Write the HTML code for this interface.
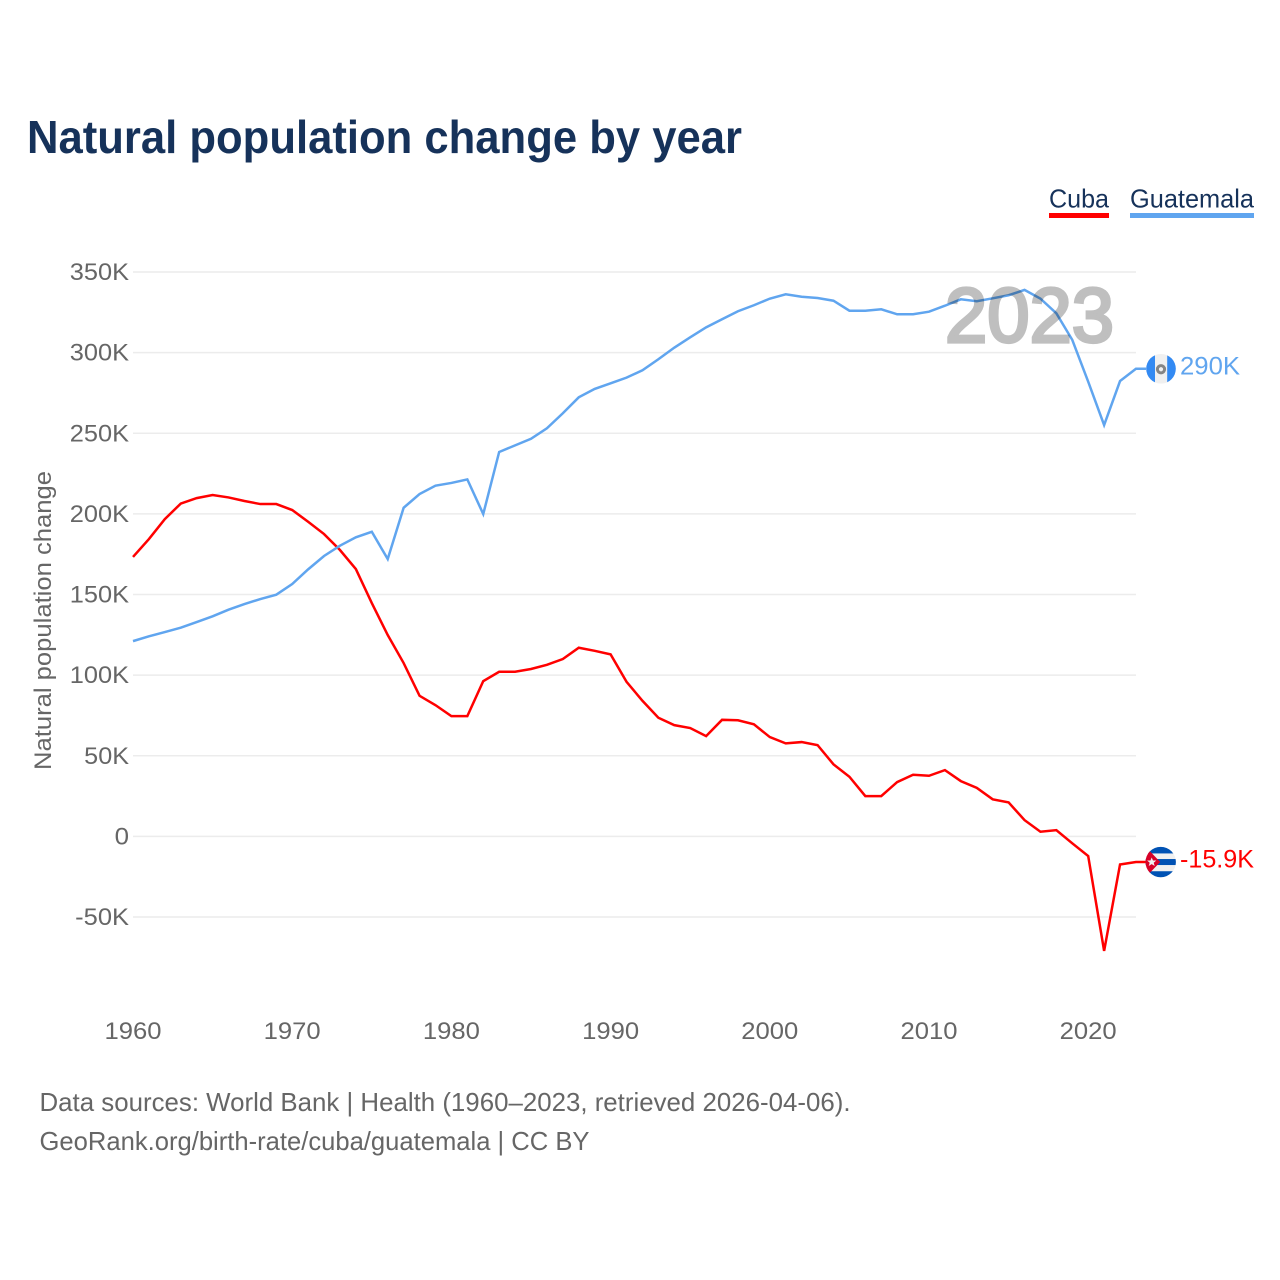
<!DOCTYPE html>
<html lang="en">
<head>
<meta charset="utf-8">
<title>Natural population change by year</title>
<style>
html,body{margin:0;padding:0;background:#fff;}
svg{display:block;font-family:"Liberation Sans",sans-serif;}
</style>
</head>
<body>
<svg id="chart" xmlns="http://www.w3.org/2000/svg" width="1280" height="1280" viewBox="0 0 1280 1280">
  <rect x="0" y="0" width="1280" height="1280" fill="#ffffff"/>
  <text x="27" y="153" font-size="46" font-weight="700" fill="#16325a" textLength="715" lengthAdjust="spacingAndGlyphs">Natural population change by year</text>

  <g>
    <text x="1049" y="207.5" font-size="26" fill="#16325a" textLength="60" lengthAdjust="spacingAndGlyphs">Cuba</text>
    <rect x="1049" y="213" width="60" height="5" fill="#ff0000"/>
  </g>
  <g>
    <text x="1130" y="207.5" font-size="26" fill="#16325a" textLength="124" lengthAdjust="spacingAndGlyphs">Guatemala</text>
    <rect x="1130" y="213" width="124" height="5" fill="#60a5ef"/>
  </g>

  <g id="grid"></g>
  <g id="yticks"></g>
  <g id="xticks"></g>
  <text transform="translate(51,770) rotate(-90)" font-size="24" fill="#666666" textLength="299" lengthAdjust="spacingAndGlyphs">Natural population change</text>

  <g id="series"></g>

  <text x="945" y="342" font-size="77" font-weight="400" fill="#bfbfbf" stroke="#bfbfbf" stroke-width="3.2" style="mix-blend-mode:multiply" textLength="169" lengthAdjust="spacingAndGlyphs">2023</text>

  <g id="flag-guatemala">
    <clipPath id="clip-gt"><circle cx="0" cy="0" r="14.8"/></clipPath>
    <g clip-path="url(#clip-gt)">
      <rect x="-15" y="-15" width="30" height="30" fill="#f0f0f0"/>
      <rect x="-15" y="-15" width="9" height="30" fill="#338af3"/>
      <rect x="6.2" y="-15" width="9" height="30" fill="#338af3"/>
    </g>
    <circle cx="0" cy="0.5" r="3.6" fill="none" stroke="#858585" stroke-width="3"/>
  </g>
  <g id="flag-cuba">
    <clipPath id="clip-cu"><circle cx="0" cy="0" r="15.2"/></clipPath>
    <g clip-path="url(#clip-cu)">
      <rect x="-16" y="-16" width="32" height="32" fill="#f0f0f0"/>
      <rect x="-16" y="-16" width="32" height="7.4" fill="#0052b4"/>
      <rect x="-16" y="-3" width="32" height="6" fill="#0052b4"/>
      <rect x="-16" y="9.2" width="32" height="7" fill="#0052b4"/>
      <polygon points="-16,-14 -11,-11 -0.5,0 -11,11 -16,14" fill="#d80027"/>
    </g>
    <polygon points="-9,-4.6 -7.7,-1.5 -4.4,-1.5 -7,0.7 -6,3.9 -9,2.1 -12,3.9 -11,0.7 -13.6,-1.5 -10.3,-1.5" fill="#f0f0f0"/>
  </g>
  <text id="end-label-guatemala" x="1180" font-size="25" fill="#60a5ef" textLength="60" lengthAdjust="spacingAndGlyphs"></text>
  <text id="end-label-cuba" x="1180" font-size="25" fill="#ff0000" textLength="74" lengthAdjust="spacingAndGlyphs"></text>

  <text x="39.5" y="1111" font-size="26" fill="#666666" textLength="811" lengthAdjust="spacingAndGlyphs">Data sources: World Bank | Health (1960–2023, retrieved 2026-04-06).</text>
  <text x="39.5" y="1150" font-size="26" fill="#666666" textLength="550" lengthAdjust="spacingAndGlyphs">GeoRank.org/birth-rate/cuba/guatemala | CC BY</text>
</svg>
<script>
const firstYear = 1960;
const xTickYears = [1960, 1970, 1980, 1990, 2000, 2010, 2020];
const yTickValues = [350, 300, 250, 200, 150, 100, 50, 0, -50];
const yTickLabels = ["350K", "300K", "250K", "200K", "150K", "100K", "50K", "0", "-50K"];
const cubaValues = [
  173.3, 184.4, 196.8, 206.4, 209.8, 211.7, 210.2, 208.0, 206.1, 206.1,
  202.4, 195.1, 187.5, 177.6, 165.8, 144.7, 124.9, 107.5, 87.2, 81.4,
  74.6, 74.6, 96.3, 102.1, 102.1, 103.8, 106.4, 110.0, 117.0, 115.1,
  112.9, 95.9, 84.1, 73.6, 69.0, 67.2, 62.2, 72.3, 72.0, 69.5,
  61.6, 57.7, 58.5, 56.6, 44.7, 37.0, 25.0, 25.0, 33.7, 38.2,
  37.6, 41.1, 34.3, 30.1, 23.0, 21.1, 10.1, 2.9, 3.9, -4.3,
  -12.2, -71.0, -17.4, -15.9
];
const guatemalaValues = [
  121.1, 124.1, 126.7, 129.4, 132.9, 136.5, 140.6, 144.1, 147.2, 149.9,
  156.5, 165.6, 173.9, 180.3, 185.5, 188.9, 172.0, 203.8, 212.3, 217.5,
  219.2, 221.4, 199.9, 238.4, 242.5, 246.6, 253.1, 262.4, 272.3, 277.5,
  281.0, 284.5, 289.1, 295.9, 303.1, 309.5, 315.7, 320.7, 325.7, 329.4,
  333.5, 336.2, 334.7, 333.9, 332.2, 326.0, 326.0, 326.9, 323.8, 323.8,
  325.4, 329.1, 333.1, 331.9, 333.7, 335.6, 338.9, 333.5, 324.4, 307.9,
  282.0, 255.1, 282.4, 290.0
];
const cubaEndLabel = "-15.9K";
const guatemalaEndLabel = "290K";

const NS = "http://www.w3.org/2000/svg";
function xScale(year) { return 133 + (year - firstYear) * 15.92; }
function yScale(v) { return 836.4 - v * 1.6125; }
function labelWidth(s) {
  let w = 0;
  for (const c of s) { w += c === "K" ? 16 : c === "-" ? 9 : 14.4; }
  return w;
}

const grid = document.getElementById("grid");
const yticks = document.getElementById("yticks");
yTickValues.forEach(function (v, i) {
  const line = document.createElementNS(NS, "line");
  
  
  line.setAttribute("x1", 133);
  line.setAttribute("x2", 1136);
  line.setAttribute("y1", yScale(v));
  line.setAttribute("y2", yScale(v));
  line.setAttribute("stroke", "#ececec");
  line.setAttribute("stroke-width", 1.5);
  grid.appendChild(line);

  const t = document.createElementNS(NS, "text");
  
  
  t.setAttribute("x", 129);
  t.setAttribute("y", yScale(v) + 8);
  t.setAttribute("text-anchor", "end");
  t.setAttribute("font-size", 24);
  t.setAttribute("fill", "#666666");
  t.setAttribute("textLength", labelWidth(yTickLabels[i]));
  t.setAttribute("lengthAdjust", "spacingAndGlyphs");
  t.textContent = yTickLabels[i];
  yticks.appendChild(t);
});

const xticks = document.getElementById("xticks");
xTickYears.forEach(function (yr) {
  const t = document.createElementNS(NS, "text");
  
  
  t.setAttribute("x", xScale(yr));
  t.setAttribute("y", 1039);
  t.setAttribute("text-anchor", "middle");
  t.setAttribute("font-size", 24);
  t.setAttribute("fill", "#666666");
  t.setAttribute("textLength", 57);
  t.setAttribute("lengthAdjust", "spacingAndGlyphs");
  t.textContent = String(yr);
  xticks.appendChild(t);
});

const seriesGroup = document.getElementById("series");
function drawSeries(values, color) {
  const last = values[values.length - 1];
  const pts = values.map(function (v, i) {
    return xScale(firstYear + i).toFixed(2) + "," + yScale(v).toFixed(2);
  });
  pts.push("1146," + yScale(last).toFixed(2));
  const p = document.createElementNS(NS, "polyline");
  p.setAttribute("points", pts.join(" "));
  p.setAttribute("fill", "none");
  p.setAttribute("stroke", color);
  p.setAttribute("stroke-width", 2.5);
  p.setAttribute("stroke-linejoin", "miter");
  return p;
}
const cubaLine = drawSeries(cubaValues, "#ff0000");


seriesGroup.appendChild(cubaLine);
const guatemalaLine = drawSeries(guatemalaValues, "#60a5ef");


seriesGroup.appendChild(guatemalaLine);

const gtY = yScale(guatemalaValues[guatemalaValues.length - 1]);
const cuY = yScale(cubaValues[cubaValues.length - 1]);
document.getElementById("flag-guatemala").setAttribute("transform", "translate(1161," + gtY + ")");
document.getElementById("flag-cuba").setAttribute("transform", "translate(1160.7," + cuY + ")");
const gtLabel = document.getElementById("end-label-guatemala");
gtLabel.setAttribute("y", gtY + 5.5);
gtLabel.textContent = guatemalaEndLabel;
const cuLabel = document.getElementById("end-label-cuba");
cuLabel.setAttribute("y", cuY + 5.5);
cuLabel.textContent = cubaEndLabel;
</script>
</body>
</html>
